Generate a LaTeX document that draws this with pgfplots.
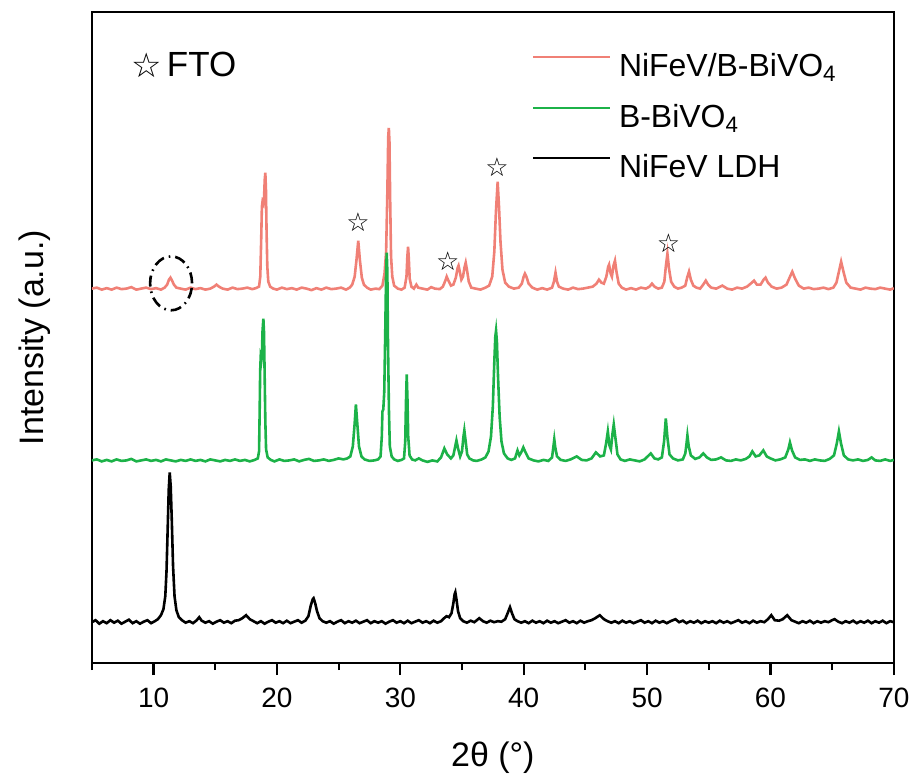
\documentclass[border=0pt]{standalone}
\usepackage{fontspec}
\setmainfont{Liberation Sans}
\newfontfamily\symfont{DejaVu Sans}
\usepackage{pgfplots}
\usepackage{pgfplotstable}
\pgfplotsset{compat=1.18}

\definecolor{redc}{RGB}{240,128,118}
\definecolor{greenc}{RGB}{28,178,72}

% NiFeV/B-BiVO4 (offset 373)
\pgfplotstableread{
x y
5.0 373
5.4 374
5.8 372
6.2 373.5
6.6 372
7.0 374
7.4 372.5
7.8 373
8.2 374.5
8.6 372
9.0 373
9.4 374
9.8 372.5
10.2 373.5
10.6 372
10.9 374
11.1 377
11.25 382
11.37 384
11.5 381
11.65 377
11.85 374
12.2 373
12.6 372
13.0 374
13.4 372.5
13.8 373.5
14.2 372
14.6 373
14.9 375
15.1 377
15.3 375
15.6 373
16.0 372
16.4 374
16.8 372.5
17.2 373
17.6 374
18.0 372.5
18.3 373.5
18.55 375
18.65 385
18.72 420
18.78 455
18.83 460
18.9 458
18.96 465
19.01 482
19.06 489
19.11 472
19.16 430
19.22 395
19.3 380
19.45 375
19.7 373
20.0 372
20.4 374
20.8 372.5
21.2 373.5
21.6 372
22.0 374
22.4 373
22.8 371.5
23.2 373.5
23.6 372
24.0 374
24.4 372.5
24.8 373
25.2 374
25.6 372
25.9 374
26.1 377
26.3 385
26.45 402
26.59 421
26.72 402
26.88 384
27.05 377
27.3 374
27.6 372
28.0 373
28.3 372.5
28.55 376
28.72 388
28.85 410
28.95 470
29.02 525
29.07 534
29.12 520
29.18 460
29.25 405
29.35 385
29.5 376
29.8 373
30.1 372
30.35 374
30.5 385
30.57 405
30.63 415
30.69 403
30.76 383
30.9 375
31.1 373
31.3 377
31.45 374
31.8 373
32.2 372
32.5 374.5
32.8 373
33.2 372.5
33.45 375
33.65 381
33.76 385
33.9 381
34.1 376
34.3 377
34.5 384
34.65 394
34.72 396
34.82 390
34.95 382
35.08 385
35.2 394
35.3 399
35.4 392
35.55 380
35.75 374
36.1 373
36.5 372
36.9 374
37.2 376
37.45 385
37.62 410
37.75 450
37.89 480
38.0 455
38.12 420
38.28 392
38.5 379
38.8 375
39.2 373
39.6 374
39.85 378
40.0 385
40.1 388
40.22 385
40.4 378
40.7 374
41.1 372
41.5 373.5
41.9 372
42.3 374
42.45 380
42.58 389
42.7 380
42.85 375
43.2 373
43.6 372
44.0 374
44.4 372.5
44.8 373
45.2 374
45.6 375
45.9 378
46.1 382
46.3 379
46.5 378
46.7 385
46.85 395
46.92 397
47.05 388
47.15 385
47.28 396
47.4 401
47.52 390
47.7 378
47.95 374
48.3 372
48.7 373.5
49.1 372
49.5 374
49.9 373
50.2 375
50.4 378
50.6 375
50.9 373
51.2 374
51.4 380
51.52 395
51.65 408
51.78 393
51.95 380
52.2 375
52.5 373
52.8 374
53.1 376
53.25 384
53.4 390
53.55 382
53.75 376
54.0 374
54.3 373
54.55 377
54.76 381
54.95 377
55.2 374
55.6 373
56.1 376
56.5 373
56.9 372
57.3 374
57.7 373
58.1 375
58.4 378
58.67 381
58.9 377
59.2 377
59.45 382
59.6 384
59.8 379
60.1 375
60.5 373
60.9 374
61.3 377
61.55 384
61.77 390
62.0 383
62.3 376
62.7 373
63.1 374
63.5 372.5
63.9 373
64.3 374
64.7 372.5
65.1 374
65.35 379
65.55 390
65.73 400
65.92 390
66.15 379
66.5 374
66.9 373
67.3 372
67.7 374
68.1 373
68.5 372.5
68.9 374
69.3 373
69.7 372
70.0 373.5
}\redtab

% B-BiVO4 (offset 201)
\pgfplotstableread{
x y
5.0 201
5.4 202
5.8 200
6.2 201.5
6.6 200
7.0 202
7.4 200.5
7.8 201
8.2 202.5
8.6 200
9.0 201
9.4 202
9.8 200.5
10.2 201.5
10.6 200
11.0 202
11.4 201
11.8 200
12.2 201.5
12.6 200.5
13.0 202
13.4 200.5
13.8 201.5
14.2 200
14.6 202
15.0 201
15.4 200
15.8 201.5
16.2 200.5
16.6 202
17.0 200.5
17.4 201.5
17.8 200
18.2 201.5
18.45 203
18.55 210
18.6 250
18.64 290
18.68 303
18.73 300
18.78 305
18.83 330
18.9 343
18.95 330
19.0 290
19.06 240
19.12 212
19.25 204
19.5 201.5
19.8 200
20.2 202
20.6 200.5
21.0 201
21.4 202
21.8 200
22.2 201.5
22.6 202.5
23.0 200.5
23.4 201
23.8 202
24.2 200.5
24.6 201.5
25.0 203
25.4 202
25.7 203
25.95 205
26.15 215
26.3 238
26.4 257
26.5 240
26.65 215
26.85 205
27.1 202
27.5 200.5
27.9 201
28.2 202
28.4 205
28.5 225
28.55 250
28.62 252
28.7 270
28.78 330
28.85 390
28.9 409
28.95 390
29.0 320
29.08 250
29.15 215
29.3 205
29.5 202
29.8 200.5
30.1 201.5
30.3 203
30.4 220
30.46 260
30.52 287
30.58 262
30.64 225
30.75 206
30.95 202
31.2 201
31.5 203
31.8 201
32.2 199.5
32.6 201
33.0 200
33.3 204
33.57 213
33.8 207
34.1 203
34.3 206
34.45 215
34.55 221
34.68 213
34.85 205
35.0 210
35.12 225
35.19 231
35.28 222
35.42 207
35.6 203
35.9 201
36.2 200.5
36.6 202
36.9 204
37.15 210
37.35 225
37.5 255
37.62 300
37.7 325
37.76 331
37.83 320
37.92 285
38.05 245
38.2 220
38.4 208
38.7 203
39.0 201.5
39.3 203
39.5 211
39.65 206
39.8 209
39.97 214
40.15 209
40.4 203
40.8 201
41.2 200
41.6 201.5
42.0 200.5
42.3 204
42.4 214
42.48 222
42.56 214
42.7 205
43.0 201.5
43.4 200.5
43.8 202
44.3 205
44.7 201.5
45.1 201
45.5 203
45.85 209
46.2 205
46.5 206
46.68 218
46.82 230
46.95 216
47.07 212
47.2 228
47.3 237
47.42 225
47.6 207
47.85 202
48.2 200.5
48.6 202
49.0 201
49.4 200
49.8 202
50.3 208
50.6 203
50.9 202
51.2 204
51.38 220
51.52 243
51.65 224
51.82 207
52.1 203
52.5 201
52.9 202
53.1 208
53.2 218
53.27 226
53.38 215
53.55 206
53.9 202.5
54.25 204
54.56 208
54.85 204
55.2 201.5
55.6 202
56.0 204
56.4 201
56.8 200.5
57.2 202
57.6 201
58.0 202.5
58.3 205
58.53 210
58.8 205
59.1 206
59.42 211
59.7 205
60.0 203
60.4 201
60.8 202
61.2 204
61.45 212
61.58 219
61.75 211
62.0 204
62.4 201.5
62.8 202
63.2 200.5
63.6 202
64.0 201
64.4 200.5
64.8 202.5
65.15 206
65.38 218
65.55 230
65.72 218
65.95 206
66.3 202
66.7 201
67.1 202
67.5 200.5
67.9 201.5
68.2 204
68.5 201
68.9 200.5
69.3 202
69.7 200.5
70.0 201.5
}\greentab

% NiFeV LDH (offset 39)
\pgfplotstableread{
x y
5.0 39
5.3 41
5.6 37.5
5.9 40
6.2 38
6.5 41
6.8 38.5
7.1 40.5
7.4 37.5
7.7 39.5
8.0 41.5
8.3 38
8.6 40
8.9 37.5
9.2 39.5
9.5 41
9.8 38
10.1 40
10.35 42
10.6 46
10.8 52
10.95 65
11.05 90
11.15 135
11.23 172
11.31 189
11.39 175
11.48 140
11.58 95
11.7 65
11.85 51
12.05 44
12.3 41
12.6 38.5
12.9 40
13.2 38
13.5 41
13.7 44
13.9 40.5
14.2 38.5
14.5 40
14.8 37.5
15.1 39.5
15.4 41
15.7 38.5
16.0 40
16.3 38
16.6 40.5
16.9 41
17.2 43
17.5 46
17.8 42
18.1 40
18.4 38
18.7 40
19.0 37.5
19.3 39.5
19.6 41
19.9 38.5
20.2 40
20.5 38
20.8 40.5
21.1 38
21.4 39.5
21.7 41
22.0 38.5
22.3 40.5
22.55 45
22.75 56
22.9 62
22.97 63
23.1 58
23.25 50
23.45 43
23.7 40
24.0 38.5
24.3 40
24.6 37.5
24.9 39.5
25.2 41
25.5 38
25.8 40
26.1 38.5
26.4 40.5
26.7 38
27.0 39.5
27.3 41
27.6 38
27.9 40
28.2 38.5
28.5 40
28.8 37.5
29.1 39.5
29.4 41
29.7 38.5
30.0 40
30.3 38
30.6 40.5
30.9 38
31.2 39.5
31.5 41
31.8 38.5
32.1 40
32.4 38
32.7 40.5
33.0 38.5
33.3 40
33.55 43
33.75 45
33.95 44
34.15 48
34.3 58
34.4 67
34.46 69
34.55 62
34.68 50
34.85 43
35.1 40
35.4 38.5
35.7 40.5
36.0 39
36.4 43
36.7 40
37.0 38.5
37.3 40.5
37.6 39
37.9 40
38.2 39.5
38.5 42
38.7 48
38.89 54
39.05 48
39.25 42
39.5 40
39.8 38.5
40.1 40
40.4 38
40.7 40.5
41.0 38.5
41.3 40
41.6 38
41.9 40.5
42.2 38.5
42.5 40
42.8 38
43.1 39.5
43.4 41
43.7 38.5
44.0 40
44.3 38
44.6 40.5
44.9 38.5
45.2 40
45.5 41
45.8 43
46.17 46
46.5 42
46.8 40
47.1 38.5
47.4 40
47.7 38
48.0 40.5
48.3 38.5
48.6 40
48.9 38
49.2 39.5
49.5 41
49.8 38.5
50.1 40
50.4 38
50.7 40.5
51.0 38.5
51.3 40
51.6 38
51.9 40
52.3 42
52.6 39
52.9 40.5
53.2 38
53.5 40
53.8 38.5
54.1 40.5
54.4 38
54.7 40
55.0 38.5
55.3 40
55.6 38
55.9 40.5
56.2 38.5
56.5 40
56.8 38
57.1 39.5
57.4 41
57.7 38.5
58.0 40
58.3 38
58.6 40.5
58.9 38.5
59.2 40
59.5 39
59.8 42
60.07 46
60.35 41
60.7 40.5
61.0 42
61.36 46
61.7 41
62.0 39.5
62.3 38
62.6 40
62.9 38.5
63.2 40.5
63.5 38
63.8 40
64.1 38.5
64.4 40
64.7 39
65.0 41
65.2 42
65.5 39.5
65.8 38
66.1 40
66.4 38.5
66.7 40.5
67.0 38
67.3 40
67.6 38.5
67.9 40.5
68.2 38
68.5 40
68.8 38.5
69.1 40.5
69.4 38
69.7 40
70.0 39
}\blacktab

\begin{document}
\begin{tikzpicture}
\begin{axis}[
    width=401.5pt, height=326pt, scale only axis,
    xmin=5, xmax=70, ymin=-2, ymax=650,
    xtick={10,20,...,70}, minor xtick={5,15,...,65},
    ytick=\empty,
    xtick pos=bottom, tick align=outside,
    major tick length=6pt, minor tick length=3.5pt,
    every tick/.style={black, line width=1.1pt},
    axis line style={line width=1.2pt},
    xticklabel style={font=\fontsize{14}{16}\selectfont, yshift=-3pt},
    /pgf/number format/assume math mode=true,
    xlabel={2θ (°)},
    ylabel={Intensity (a.u.)},
    xlabel style={at={(axis description cs:0.5,-0.145)}, anchor=center, font=\fontsize{17}{20}\selectfont},
    ylabel style={at={(axis description cs:-0.071,0.5)}, anchor=center, font=\fontsize{17}{20}\selectfont},
    legend style={at={(rel axis cs:0.549,0.938)}, anchor=north west, draw=none, fill=none,
        inner sep=0pt, outer sep=0pt, row sep=9.4pt, column sep=4pt,
        font=\fontsize{16}{19}\selectfont,
        nodes={inner sep=0pt, text height=12pt, text depth=4pt}},
    legend cell align=left,
    legend image code/.code={\draw[#1, line width=1pt] (0pt,5.7pt) -- (38.5pt,5.7pt);},
]
\addplot[redc, line width=1.3pt] table {\redtab};
\addlegendentry{NiFeV/B-BiVO\textsubscript{4}}
\addplot[greenc, line width=1.3pt] table {\greentab};
\addlegendentry{B-BiVO\textsubscript{4}}
\addplot[black, line width=1.3pt] table {\blacktab};
\addlegendentry{NiFeV LDH}

% FTO markers
\node[font=\symfont\bfseries\fontsize{13}{13}\selectfont] at (axis cs:26.57,440) {☆};
\node[font=\symfont\bfseries\fontsize{13}{13}\selectfont] at (axis cs:33.84,400) {☆};
\node[font=\symfont\bfseries\fontsize{13}{13}\selectfont] at (axis cs:37.84,495) {☆};
\node[font=\symfont\bfseries\fontsize{13}{13}\selectfont] at (axis cs:51.73,419) {☆};
\node[font=\symfont\fontsize{17}{17}\selectfont] at (axis cs:9.45,597) {☆};
\node[anchor=base west, inner sep=0pt, font=\fontsize{17.5}{20}\selectfont] at (axis cs:11.05,585.3) {FTO};

% circled LDH peak
\draw[black, line width=1.3pt, dash pattern=on 5.5pt off 2.5pt on 0.8pt off 2.5pt]
    (axis cs:11.42,378.3) ellipse [x radius=10.5pt, y radius=13.5pt];

\coordinate (sw) at (rel axis cs:0,0);
\coordinate (ne) at (rel axis cs:1,1);
\end{axis}
\path ([shift={(-46pt,-52.5pt)}]sw) rectangle ([shift={(10.5pt,6pt)}]ne);
\end{tikzpicture}
\end{document}
